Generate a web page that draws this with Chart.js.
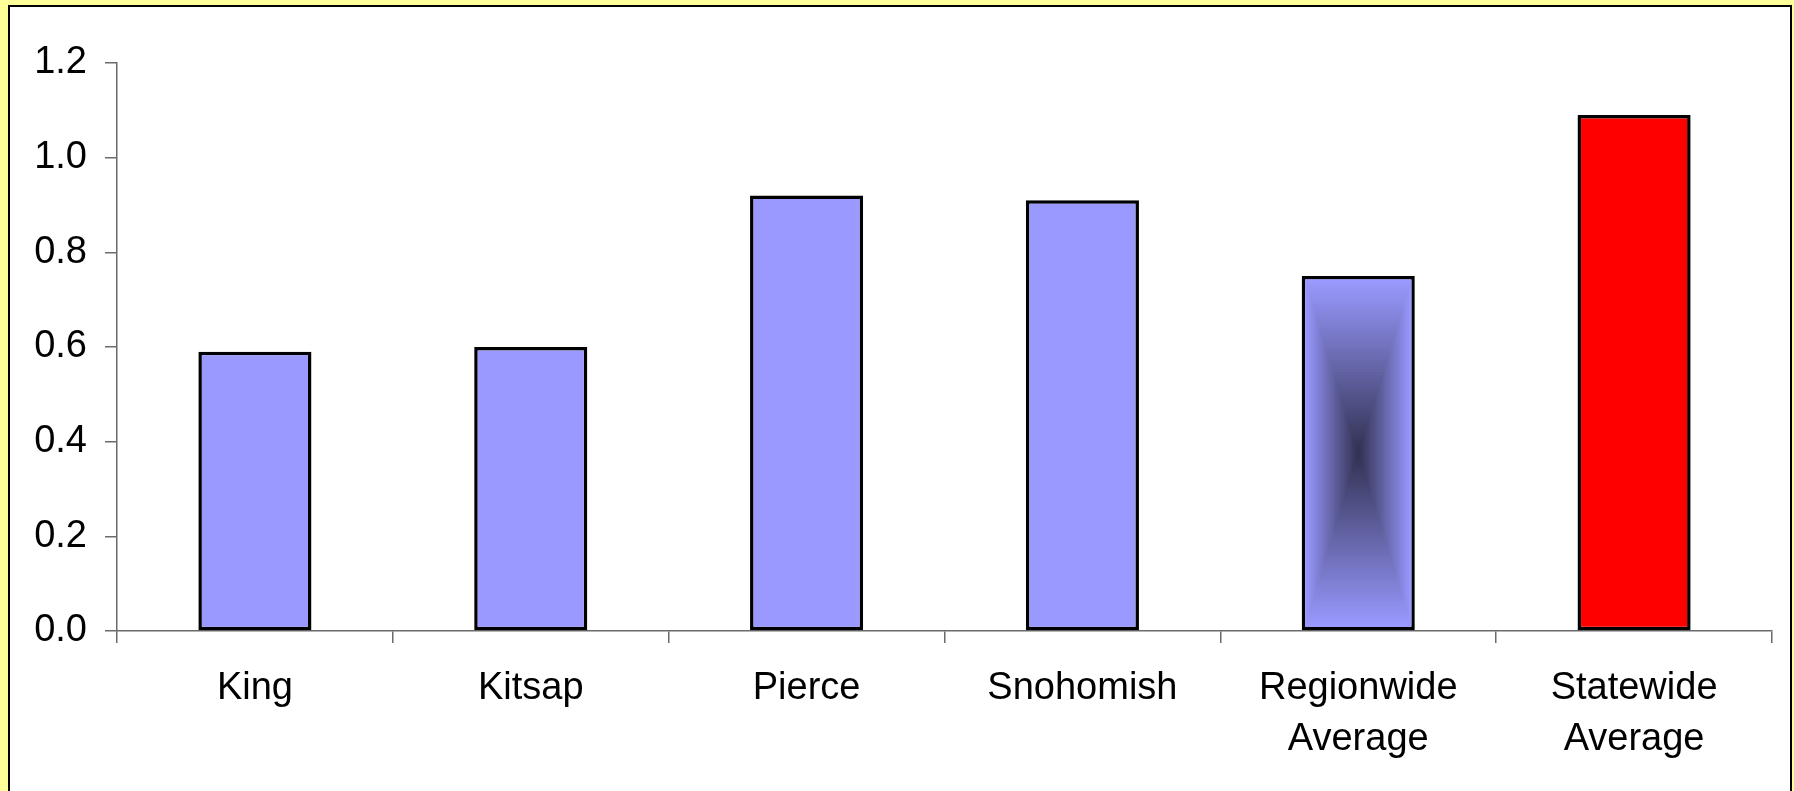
<!DOCTYPE html>
<html>
<head>
<meta charset="utf-8">
<script src="https://cdn.jsdelivr.net/npm/chart.js@4/dist/chart.umd.min.js"></script>
<style>
  body { margin: 0; background: #ffff99; overflow: hidden; }
  #panel { position: absolute; left: 8px; top: 5px; width: 1780px; height: 800px; background: #ffffff; border: 2px solid #000000; }
  #wrap { position: absolute; left: 0; top: 0; width: 1794px; height: 791px; }
</style>
</head>
<body>
<div id="panel"></div>
<div id="wrap"><canvas id="barChart"></canvas></div>
<script>
// categories and values
var counties = ["King", "Kitsap", "Pierce", "Snohomish", ["Regionwide", "Average"], ["Statewide", "Average"]];
var ratios = [0.59, 0.60, 0.92, 0.91, 0.75, 1.09];
var barColors = ["#9999ff", "#9999ff", "#9999ff", "#9999ff", "#9999ff", "#ff0000"];
var yTicks = [0, 0.2, 0.4, 0.6, 0.8, 1.0, 1.2];
var yTickLabels = ["0.0", "0.2", "0.4", "0.6", "0.8", "1.0", "1.2"];
// the regionwide bar gets the "from center" fill
var shadedBar = 4;

var axisGray = "#6a6a6a";
var fontFamily = "'Liberation Sans', Arial, sans-serif";
var barBorder = 3.5;

// box gradient (light edges -> dark centre) painted inside the bar's border
var centerShade = {
  id: "centerShade",
  afterDatasetsDraw: function(chart) {
    var el = chart.getDatasetMeta(0).data[shadedBar];
    if (!el) return;
    var bw = barBorder;
    var left = el.x - el.width / 2 + bw;
    var right = el.x + el.width / 2 - bw;
    var top = Math.min(el.y, el.base) + bw;
    var bottom = Math.max(el.y, el.base) - bw;
    var hw = (right - left) / 2, hh = (bottom - top) / 2;
    var light = [153, 153, 255], dark = [48, 48, 80];
    var ctx = chart.ctx;
    var steps = 60;
    ctx.save();
    for (var i = 0; i < steps; i++) {
      var t = i / steps;
      var k = Math.pow(t, 1.0);
      var c = light.map(function(v, j) { return Math.round(v + (dark[j] - v) * k); });
      ctx.fillStyle = "rgb(" + c.join(",") + ")";
      ctx.fillRect(left + t * hw, top + t * hh, (right - left) - 2 * t * hw, (bottom - top) - 2 * t * hh);
    }
    ctx.restore();
  }
};

var ctx = document.getElementById("barChart").getContext("2d");
var barChart = new Chart(ctx, {
  type: "bar",
  data: {
    labels: counties,
    datasets: [{
      data: ratios,
      backgroundColor: barColors,
      borderColor: "#000000",
      borderWidth: barBorder,
      borderSkipped: false,
      barPercentage: 0.41,
      categoryPercentage: 1.0
    }]
  },
  options: {
    responsive: true,
    maintainAspectRatio: false,
    animation: false,
    layout: { padding: { top: 63, right: 22, bottom: 0, left: 0 } },
    plugins: {
      legend: { display: false },
      tooltip: { enabled: false }
    },
    scales: {
      x: {
        offset: true,
        border: { display: true, color: axisGray, width: 1.5 },
        grid: { display: true, offset: true, drawOnChartArea: false, drawTicks: true, tickLength: 12, color: axisGray, lineWidth: 1.5 },
        ticks: {
          color: "#000000",
          padding: 20,
          maxRotation: 0,
          autoSkip: false,
          font: { family: fontFamily, size: 38, lineHeight: 1.34 }
        },
        afterFit: function(scale) { scale.height = 160; }
      },
      y: {
        min: 0,
        max: 1.2,
        border: { display: true, color: axisGray, width: 1.5 },
        grid: { display: true, drawOnChartArea: false, drawTicks: true, tickLength: 12, color: axisGray, lineWidth: 1.5 },
        afterBuildTicks: function(scale) {
          scale.ticks = yTicks.map(function(v) { return { value: v }; });
        },
        ticks: {
          color: "#000000",
          padding: 18,
          font: { family: fontFamily, size: 38 },
          callback: function(value) {
            var i = yTicks.indexOf(value);
            return i >= 0 ? yTickLabels[i] : value;
          }
        },
        afterFit: function(scale) { scale.width = 117; }
      }
    }
  },
  plugins: [centerShade]
});
</script>
</body>
</html>
